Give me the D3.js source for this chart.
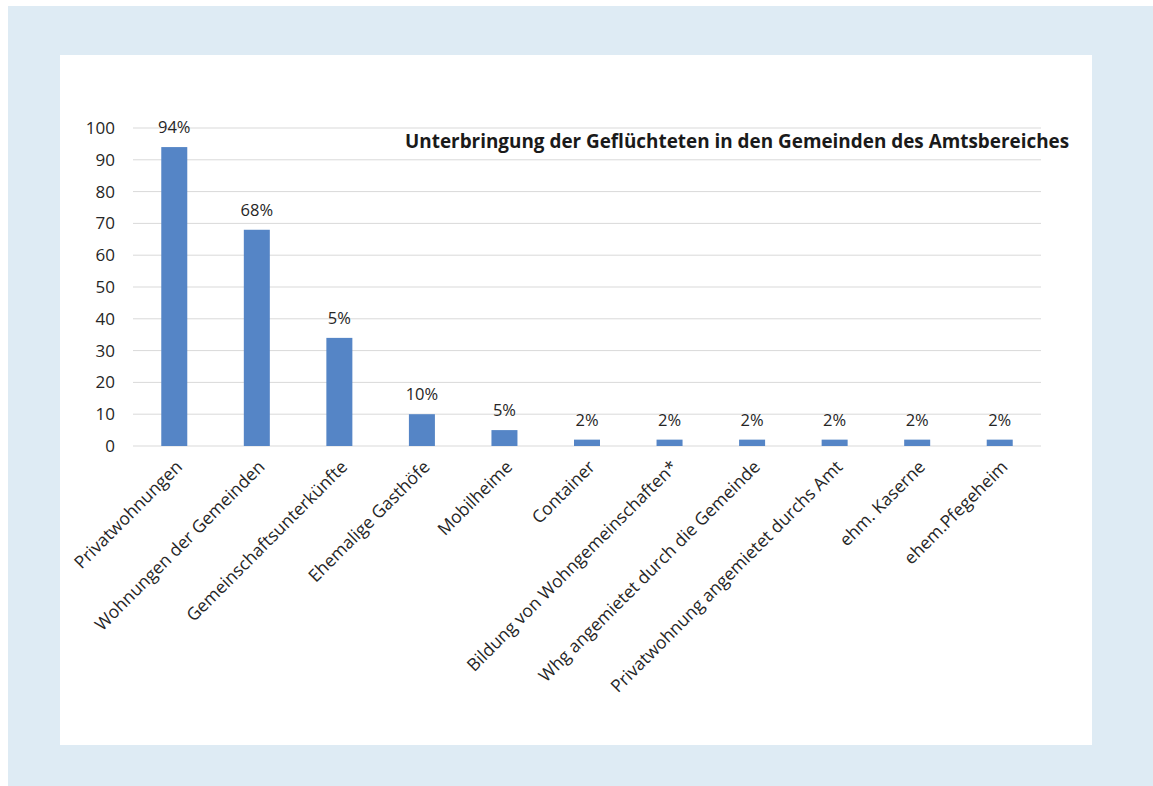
<!DOCTYPE html>
<html><head><meta charset="utf-8">
<script src="https://cdn.jsdelivr.net/npm/d3@7"></script>
<style>body{margin:0;background:#fff}svg{display:block}</style>
</head><body>
<script>
const categories = ["Privatwohnungen","Wohnungen der Gemeinden","Gemeinschaftsunterkünfte","Ehemalige Gasthöfe","Mobilheime","Container","Bildung von Wohngemeinschaften*","Whg angemietet durch die Gemeinde","Privatwohnung angemietet durchs Amt","ehm. Kaserne","ehem.Pfegeheim"];
const values = [94, 68, 34, 10, 5, 2, 2, 2, 2, 2, 2];
const valueLabels = ["94%","68%","5%","10%","5%","2%","2%","2%","2%","2%","2%"];
const yTicks = [0,10,20,30,40,50,60,70,80,90,100];
const title = "Unterbringung der Geflüchteten in den Gemeinden des Amtsbereiches";

const W = 1153, H = 786;
const font = "'Open Sans', sans-serif";
const svg = d3.select("body").append("svg").attr("width", W).attr("height", H);
svg.append("rect").attr("x", 8).attr("y", 6).attr("width", W-8).attr("height", H-6).attr("fill", "#deebf4");
svg.append("rect").attr("x", 60).attr("y", 55).attr("width", 1032).attr("height", 690).attr("fill", "#fff");

const x = d3.scaleBand().domain(categories).range([133, 1041]).paddingInner(0.685).paddingOuter(0.3425);
const y = d3.scaleLinear().domain([0, 100]).range([446, 128]);

const g = svg.append("g");
g.selectAll("line.grid").data(yTicks).join("line").attr("class","grid")
  .attr("x1", 133).attr("x2", 1041).attr("y1", d => y(d)).attr("y2", d => y(d))
  .attr("stroke", "#d9d9d9").attr("stroke-width", 1);

const yAxis = d3.axisLeft(y).tickValues(yTicks).tickSize(0).tickPadding(18);
const ya = g.append("g").attr("transform", "translate(133,0)").call(yAxis);
ya.select(".domain").remove();
ya.selectAll("text").attr("font-family", font).attr("font-size", 17).attr("fill", "#262626");

g.selectAll("rect.bar").data(values).join("rect").attr("class","bar")
  .attr("x", (d,i) => x(categories[i])).attr("width", x.bandwidth())
  .attr("y", d => y(d)).attr("height", d => y(0) - y(d)).attr("fill", "#5585c6");

g.selectAll("text.val").data(values).join("text").attr("class","val")
  .attr("x", (d,i) => x(categories[i]) + x.bandwidth()/2)
  .attr("y", d => y(d) - 14)
  .attr("text-anchor", "middle").attr("font-family", font).attr("font-size", 16.5).attr("fill", "#262626")
  .text((d,i) => valueLabels[i]);

const xAxis = d3.axisBottom(x).tickSize(0).tickPadding(0);
const xa = g.append("g").attr("transform", "translate(0,446)").call(xAxis);
xa.select(".domain").remove();
xa.selectAll("text")
  .attr("font-family", font).attr("font-size", 17.5).attr("fill", "#262626")
  .attr("text-anchor", "end").attr("dy", null).attr("y", 0).attr("x", 0)
  .attr("transform", "translate(9,22) rotate(-45)");

svg.append("text").attr("x", 405).attr("y", 148).attr("font-family", font).attr("font-weight", "bold")
  .attr("font-size", 18.9).attr("fill", "#1a1a1a").text(title);
</script>
</body></html>
